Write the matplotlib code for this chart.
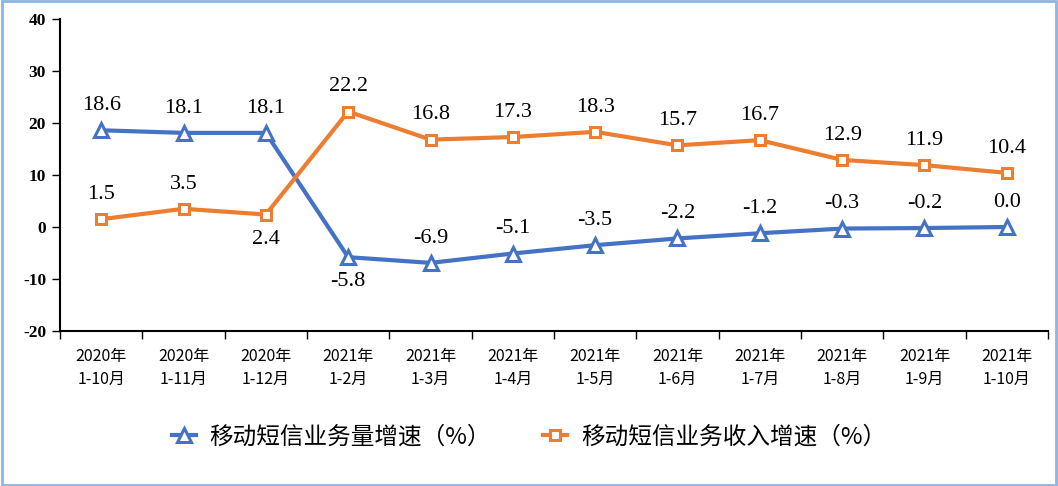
import numpy as np
import matplotlib.pyplot as plt
from matplotlib.patches import Rectangle

plt.rcParams['font.family'] = ['Noto Sans CJK SC', 'DejaVu Sans']

# Data
categories = ['2020年\n1-10月', '2020年\n1-11月', '2020年\n1-12月', '2021年\n1-2月',
              '2021年\n1-3月', '2021年\n1-4月', '2021年\n1-5月', '2021年\n1-6月',
              '2021年\n1-7月', '2021年\n1-8月', '2021年\n1-9月', '2021年\n1-10月']
volume_growth = [18.6, 18.1, 18.1, -5.8, -6.9, -5.1, -3.5, -2.2, -1.2, -0.3, -0.2, 0.0]
revenue_growth = [1.5, 3.5, 2.4, 22.2, 16.8, 17.3, 18.3, 15.7, 16.7, 12.9, 11.9, 10.4]
volume_label = '移动短信业务量增速（%）'
revenue_label = '移动短信业务收入增速（%）'

blue = '#4472C4'
orange = '#ED7D31'

fig = plt.figure(figsize=(10.58, 4.86), dpi=100)
ax = fig.add_axes([60 / 1058, 155 / 486, 988 / 1058, 312 / 486])

x = np.arange(len(categories))
ax.plot(x, volume_growth, color=blue, lw=3, marker='^', ms=10, mfc='white',
        mec=blue, mew=2.2, label=volume_label, zorder=3)
ax.plot(x, revenue_growth, color=orange, lw=3, marker='s', ms=7.5, mfc='white',
        mec=orange, mew=2.2, label=revenue_label, zorder=3)

# Data labels
serif = 'Liberation Serif'
for i, v in enumerate(volume_growth):
    below = i == 3
    ax.annotate(f'{v:.1f}', (i, v), xytext=(0, -11 if below else 11),
                textcoords='offset points', ha='center',
                va='top' if below else 'bottom', fontsize=16, family=serif)
for i, v in enumerate(revenue_growth):
    below = i == 2
    ax.annotate(f'{v:.1f}', (i, v), xytext=(0, -11 if below else 11),
                textcoords='offset points', ha='center',
                va='top' if below else 'bottom', fontsize=16, family=serif)

ax.set_xlim(-0.5, len(categories) - 0.5)
ax.set_ylim(-20, 40)
ax.set_yticks(range(-20, 41, 10))
ax.set_yticklabels([str(t) for t in range(-20, 41, 10)], family=serif,
                   fontweight='bold', fontsize=12.5)
ax.tick_params(axis='y', direction='out', length=6, width=1, pad=4)

ax.set_xticks(np.arange(-0.5, len(categories), 1))
ax.set_xticklabels([])
ax.set_xticks(x, minor=True)
ax.set_xticklabels(categories, minor=True, fontsize=11.5, linespacing=1.45)
ax.tick_params(axis='x', which='major', direction='out', length=6, width=1)
ax.tick_params(axis='x', which='minor', length=0, pad=12)

for s in ['top', 'right']:
    ax.spines[s].set_visible(False)
ax.spines['left'].set_linewidth(1.5)
ax.spines['bottom'].set_linewidth(1.5)

fig.legend(loc='center', bbox_to_anchor=(0.5, 1 - 437 / 486), ncol=2,
           frameon=False, fontsize=17, handlelength=1.0, handletextpad=0.6,
           columnspacing=2.2)

fig.patches.append(Rectangle((0.002, 0.003), 0.996, 0.994, transform=fig.transFigure,
                             fill=False, edgecolor='#8DB4E2', lw=2))

fig.savefig('out.png', dpi=100)
